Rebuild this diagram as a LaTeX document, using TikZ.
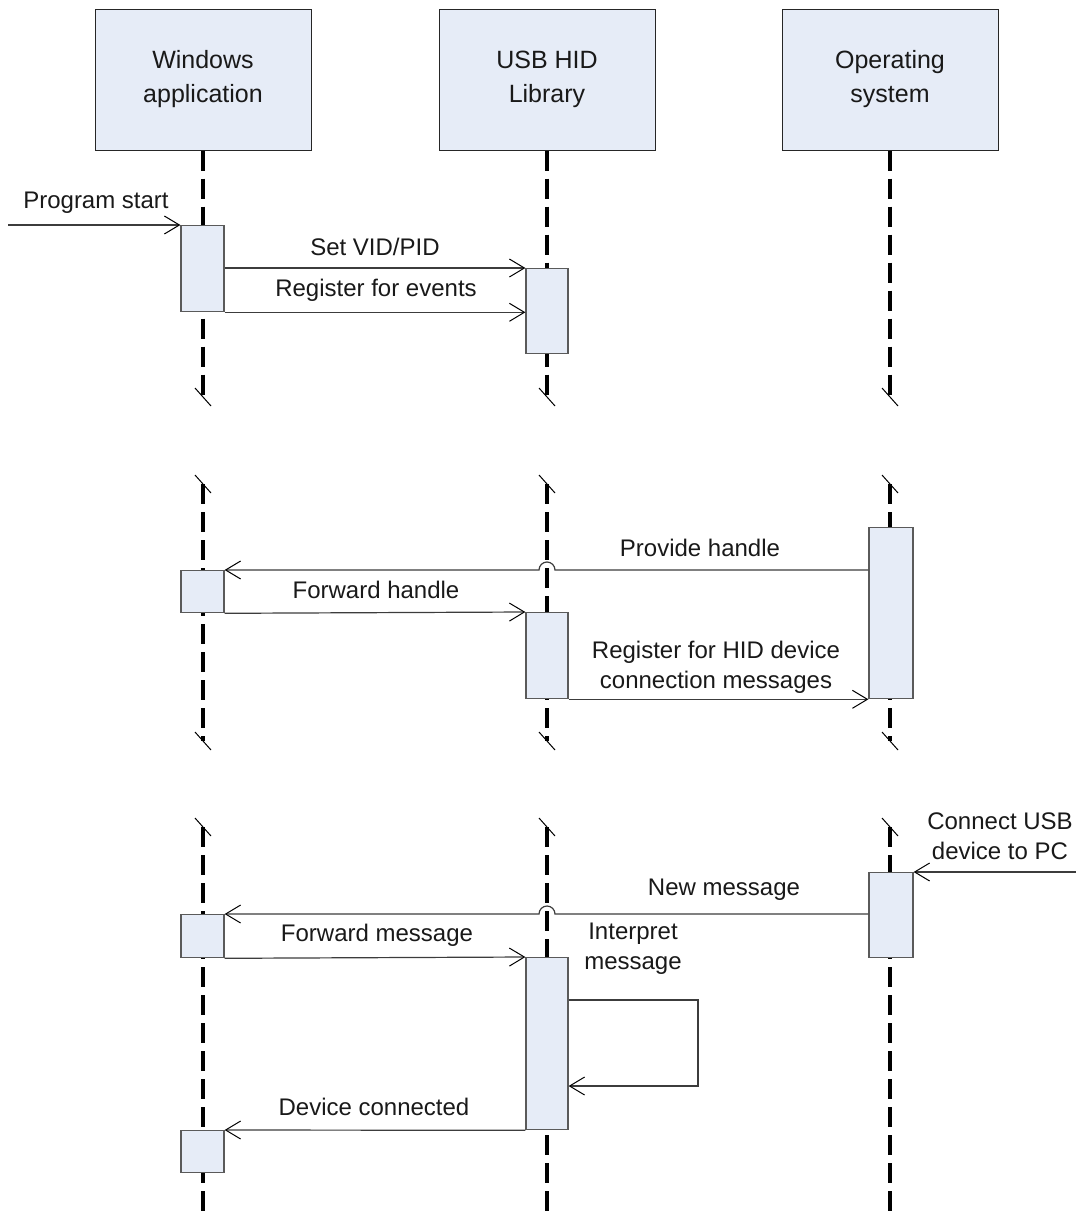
\documentclass[tikz,border=0pt]{standalone}
\usepackage{fontspec}
\setmainfont{Liberation Sans}
\usetikzlibrary{arrows.meta}
\definecolor{actfill}{HTML}{E6ECF7}
\definecolor{actline}{HTML}{5A5A5A}
\definecolor{msgline}{HTML}{3C3C3C}
\tikzset{
  header/.style={draw=black!85, fill=actfill, line width=1pt, minimum width=216pt, minimum height=141pt, align=center, inner sep=0pt, font=\fontsize{25}{34}\selectfont, text=black!90},
  act/.style={draw=actline, fill=actfill, line width=1.3pt, inner sep=0pt, anchor=north},
  life/.style={line width=4pt, dash pattern=on 20pt off 8pt},
  brk/.style={line width=1pt},
  msg/.style={draw=msgline, line width=1.2pt, -{Straight Barb[length=15pt,width=18pt,line width=1pt,color=black]}},
  lbl/.style={font=\fontsize{24}{30}\selectfont, inner sep=0pt, align=center, text=black!90}
}
\begin{document}
\begin{tikzpicture}[x=1pt,y=-1pt]
\useasboundingbox (0,0) rectangle (1076,1218);
% headers
\node[header] (hw) at (203,79.5) {Windows\\application};
\node[header] (hu) at (547,79.5) {USB HID\\Library};
\node[header] (ho) at (890,79.5) {Operating\\system};
% lifeline break points
\foreach \n/\x in {w/203,u/547,o/890}{
  \coordinate (b1\n) at (\x,397);
  \coordinate (t2\n) at (\x,484);
  \coordinate (b2\n) at (\x,741);
  \coordinate (t3\n) at (\x,827);
  \coordinate (e3\n) at (\x,1218);
}
\foreach \n in {w,u,o}{
  \draw[life] (h\n.south) -- (b1\n);
  \draw[life] (t2\n) -- (b2\n);
  \draw[life] (t3\n) -- (e3\n);
  \foreach \c in {b1\n,t2\n,b2\n,t3\n}{
    \draw[brk] ([shift={(-8,-9)}]\c) -- ([shift={(8,9)}]\c);
  }
}
% activation boxes
\node[act, minimum width=43pt, minimum height=86pt] (wact1) at (202.5,225) {};
\node[act, minimum width=42pt, minimum height=85pt] (uact1) at (547,268) {};
\node[act, minimum width=44pt, minimum height=171pt] (oact2) at (891,527) {};
\node[act, minimum width=43pt, minimum height=42pt] (wact2) at (202.5,570) {};
\node[act, minimum width=42pt, minimum height=86pt] (uact2) at (547,612) {};
\node[act, minimum width=44pt, minimum height=85pt] (oact3) at (891,872) {};
\node[act, minimum width=43pt, minimum height=43pt] (wact3) at (202.5,914) {};
\node[act, minimum width=42pt, minimum height=172pt] (uact3) at (547,957) {};
\node[act, minimum width=43pt, minimum height=42pt] (wact4) at (202.5,1130) {};
% free ends and hops
\coordinate (pstart) at (8,225);
\coordinate (cstart) at (1076,872);
\coordinate (hop1) at (547,570);
\coordinate (hop2) at (547,914);
\coordinate (selfa) at (698,1000);
\coordinate (selfb) at (698,1086);
% messages
\draw[msg] (pstart) -- (wact1.north west);
\draw[msg] (wact1.east |- uact1.north) -- (uact1.north west);
\draw[msg] (wact1.south east) -- (uact1.west |- wact1.south);
\draw[msg] (oact2.west |- wact2.north) -- ([xshift=8pt]hop1) arc[start angle=0,end angle=180,radius=8pt] -- (wact2.north east);
\draw[msg] (wact2.south east) -- (uact2.north west);
\draw[msg] (uact2.south east) -- (oact2.south west);
\draw[msg] (cstart) -- (oact3.north east);
\draw[msg] (oact3.west |- wact3.north) -- ([xshift=8pt]hop2) arc[start angle=0,end angle=180,radius=8pt] -- (wact3.north east);
\draw[msg] (wact3.south east) -- (uact3.north west);
\draw[msg] (uact3.east |- selfa) -- (selfa) -- (selfb) -- (uact3.east |- selfb);
\draw[msg] (uact3.south west) -- (wact4.north east);
% labels
\node[lbl] (lps) at (96,203) {Program start};
\node[lbl] (lsv) at (375,247) {Set VID/PID};
\node[lbl] (lre) at (376,290) {Register for events};
\node[lbl] (lph) at (700,548) {Provide handle};
\node[lbl] (lfh) at (376,590) {Forward handle};
\node[lbl] (lrh) at (716,667) {Register for HID device\\connection messages};
\node[lbl] (lcu) at (1000,836) {Connect USB\\device to PC};
\node[lbl] (lnm) at (724,890) {New message};
\node[lbl] (lfm) at (377,935) {Forward message};
\node[lbl] (lim) at (633,949) {Interpret\\message};
\node[lbl] (ldc) at (374,1107) {Device connected};
\end{tikzpicture}
\end{document}
